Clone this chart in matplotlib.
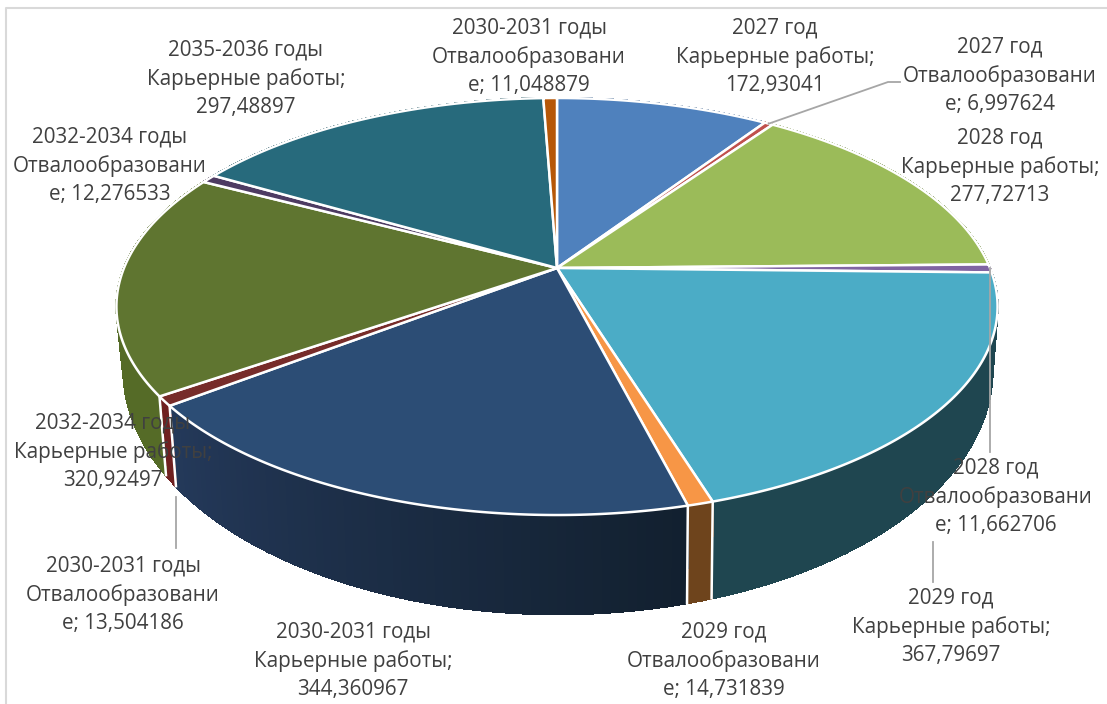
# 3D style pie chart, drawn by hand because matplotlib has no perspective pie
import numpy as np
import matplotlib
matplotlib.use('Agg')
import matplotlib.pyplot as plt
from matplotlib.colors import to_rgb

periods = ['2027 год', '2027 год', '2028 год', '2028 год', '2029 год', '2029 год',
           '2030-2031 годы', '2030-2031 годы', '2032-2034 годы', '2032-2034 годы',
           '2035-2036 годы', '2030-2031 годы']
stages = ['Карьерные работы;\n', 'Отвалообразовани\nе; ', 'Карьерные работы;\n', 'Отвалообразовани\nе; ',
          'Карьерные работы;\n', 'Отвалообразовани\nе; ', 'Карьерные работы;\n', 'Отвалообразовани\nе; ',
          'Карьерные работы;\n', 'Отвалообразовани\nе; ', 'Карьерные работы;\n', 'Отвалообразовани\nе; ']
values = [172.93041, 6.997624, 277.72713, 11.662706, 367.79697, 14.731839,
          344.360967, 13.504186, 320.92497, 12.276533, 297.48897, 11.048879]
top_colors = ['#4F81BD', '#C0504D', '#9BBB59', '#8064A2', '#4BACC6', '#F79646',
              '#2C4D75', '#772C2A', '#5F7530', '#4D3B62', '#276A7C', '#B65708']
wall_start = ['#3A5F8C', '#8E3B39', '#738B42', '#5F4A78', '#1F4650', '#6E441C',
              '#12202F', '#6F2020', '#556B27', '#3A2C49', '#1D4F5C', '#874106']
wall_end = ['#3A5F8C', '#8E3B39', '#738B42', '#5F4A78', '#1F4650', '#6E441C',
            '#24395A', '#6F2020', '#556B27', '#3A2C49', '#1D4F5C', '#874106']
label_x = [775, 1000, 1000, 996, 951, 724, 353, 123, 113, 110, 246, 529]
label_y = [57, 76, 167, 497, 627, 661, 661, 595, 452, 166, 79, 57]

# perspective of the pie: top face and bottom face
persp = 0.1847
top_face = dict(x0=557, q=433, y0=268, p=-151.9)
bot_face = dict(x0=558, q=427, y0=324.7, p=-176)


def project(angle, r, face):
    u = r * np.sin(angle)
    v = r * np.cos(angle)
    w = 1 + persp * v
    return face['x0'] + face['q'] * u / w, (face['y0'] + face['p'] * v) / w


fig = plt.figure(figsize=(11.07, 7.04), dpi=100)
ax = fig.add_axes([0, 0, 1, 1])
ax.set_xlim(0, 1107)
ax.set_ylim(704, 0)
ax.axis('off')

# chart frame
ax.plot([6, 6, 1107], [704, 8, 8], color='#D9D9D9', lw=1.5, zorder=1)

edges = np.cumsum([0] + values) / sum(values) * 2 * np.pi

# side walls first, the top face covers what is behind
for i in range(len(values)):
    a = np.linspace(edges[i], edges[i + 1], max(int((edges[i + 1] - edges[i]) * 60), 3))
    c0, c1 = np.array(to_rgb(wall_start[i])), np.array(to_rgb(wall_end[i]))
    for j in range(len(a) - 1):
        pair = a[j:j + 2]
        xt, yt = project(pair, 1, top_face)
        xb, yb = project(pair, 1, bot_face)
        col = c0 + (c1 - c0) * j / (len(a) - 2)
        ax.fill(np.r_[xt, xb[::-1]], np.r_[yt, yb[::-1]], color=col, lw=1, antialiased=False, zorder=2)

# white joints between the walls
for e in edges:
    if np.cos(e) < 0:
        xt, yt = project(e, 1, top_face)
        xb, yb = project(e, 1, bot_face)
        ax.plot([xt, xb], [yt, yb], color='white', lw=1.8, zorder=3)

# top face
for i in range(len(values)):
    a = np.linspace(edges[i], edges[i + 1], 120)
    xs, ys = project(a, 1, top_face)
    cx, cy = project(0.0, 0, top_face)
    ax.fill(np.r_[cx, xs], np.r_[cy, ys], facecolor=top_colors[i], edgecolor='white',
            lw=1.8, joinstyle='round', zorder=4)

# leader lines
line_color = '#A6A6A6'
xl, yl = project((edges[1] + edges[2]) / 2, 1, top_face)
ax.plot([xl, 888, 900], [yl, 82, 82], color=line_color, lw=1.3, zorder=5)
xl, yl = project((edges[3] + edges[4]) / 2, 1, top_face)
ax.plot([xl, xl], [yl, 452], color=line_color, lw=1.3, zorder=5)
ax.plot([933, 933], [542, 582], color=line_color, lw=1.3, zorder=5)
ax.plot([176, 176], [497, 548], color=line_color, lw=1.3, zorder=5)

# data labels
for i in range(len(values)):
    val = str(values[i]).replace('.', ',')
    ax.text(label_x[i], label_y[i], f'{periods[i]}\n{stages[i]}{val}',
            ha='center', va='center', family='Open Sans', fontsize=14.9, color='#404040',
            linespacing=1.43, zorder=6)

plt.savefig('out.png', dpi=100)
